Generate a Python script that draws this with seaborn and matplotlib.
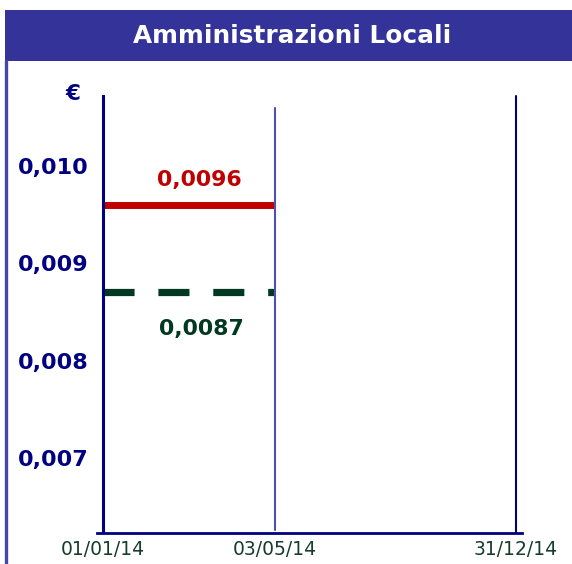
import matplotlib
matplotlib.use("Agg")
import matplotlib.pyplot as plt
from matplotlib.patches import Rectangle
from matplotlib.lines import Line2D
import pandas as pd
import seaborn as sns

# --- data -------------------------------------------------------------
title = "Amministrazioni Locali"
date_labels = ["01/01/14", "03/05/14", "31/12/14"]
date_pos = [0, 5, 12]                      # months from start of year
tariff_start = [0, 5]                      # period 01/01/14 - 03/05/14
tariff_red = [0.0096, 0.0096]
tariff_green = [0.0087, 0.0087]
label_red = "0,0096"
label_green = "0,0087"
ytick_vals = [0.007, 0.008, 0.009, 0.010]
ytick_labels = ["0,007", "0,008", "0,009", "0,010"]
unit = "€"

# --- style ------------------------------------------------------------
sns.set_theme(style="white")
plt.rcParams["font.family"] = ["DejaVu Sans"]

NAVY = "#000080"
BAND = "#333399"
RED = "#c00000"
GREEN = "#003822"
DATE_GREEN = "#163c2c"

W, H = 572, 564
fig = plt.figure(figsize=(W / 100, H / 100), dpi=100)
fig.patch.set_facecolor("white")

def fx(px):
    return px / W

def fy(py):
    return 1 - py / H

# title band and frame edge
fig.patches.append(Rectangle((fx(5), fy(61)), fx(572) - fx(5), fy(10) - fy(61),
                             transform=fig.transFigure, facecolor=BAND,
                             edgecolor="none", zorder=0))
fig.text(fx(292), fy(36), title, color="white", fontsize=17.8,
         fontweight="bold", ha="center", va="center")
fig.lines.append(Line2D([fx(6), fx(6)], [fy(61), fy(564)], transform=fig.transFigure,
                        color="#4646a8", lw=2.4))

# plotting area
ax = fig.add_axes([fx(97), fy(533), fx(522) - fx(97), fy(95) - fy(533)])
ax.set_facecolor("none")
px_per_month = (516 - 103) / 12
ax.set_xlim(-(103 - 97) / px_per_month, 12 + (522 - 516) / px_per_month)
ax.set_ylim(0.0062334, 0.0107248)

for s in ["top", "right", "left"]:
    ax.spines[s].set_visible(False)
ax.spines["bottom"].set_color(NAVY)
ax.spines["bottom"].set_linewidth(2.0)

# vertical period markers
ax.axvline(date_pos[0], ymin=0, ymax=1, color=NAVY, lw=2.2, zorder=3)
ax.axvline(date_pos[1], ymin=0.007, ymax=0.970, color="#5050ad", lw=1.5, zorder=3)
ax.axvline(date_pos[2], ymin=0, ymax=0.998, color=NAVY, lw=1.5, zorder=3)

df = pd.DataFrame({"x": tariff_start, "red": tariff_red, "green": tariff_green})
sns.lineplot(data=df, x="x", y="red", ax=ax, color=RED, lw=5.0,
             solid_capstyle="butt", zorder=2)
sns.lineplot(data=df, x="x", y="green", ax=ax, color=GREEN, lw=5.2,
             linestyle=(0, (4.3, 3.3)), dash_capstyle="butt", zorder=2)

ax.annotate(label_red, (2.8, tariff_red[0]), xytext=(0, 18), textcoords="offset points",
            ha="center", va="center", color=RED, fontsize=15.8, fontweight="bold")
ax.annotate(label_green, (2.85, tariff_green[0]), xytext=(0, -26), textcoords="offset points",
            ha="center", va="center", color=GREEN, fontsize=15.8, fontweight="bold")

ax.set_yticks(ytick_vals)
ax.set_yticklabels(ytick_labels, color=NAVY, fontsize=16, fontweight="bold")
ax.set_xticks(date_pos)
ax.set_xticklabels(date_labels, color=DATE_GREEN, fontsize=13.5)
ax.tick_params(axis="y", length=0, pad=6)
ax.tick_params(axis="x", length=0, pad=5)
ax.set_xlabel("")
ax.set_ylabel("")

fig.text(fx(73), fy(94), unit, color=NAVY, fontsize=15.5, fontweight="bold",
         ha="center", va="center")

fig.savefig("out.png", dpi=100)
